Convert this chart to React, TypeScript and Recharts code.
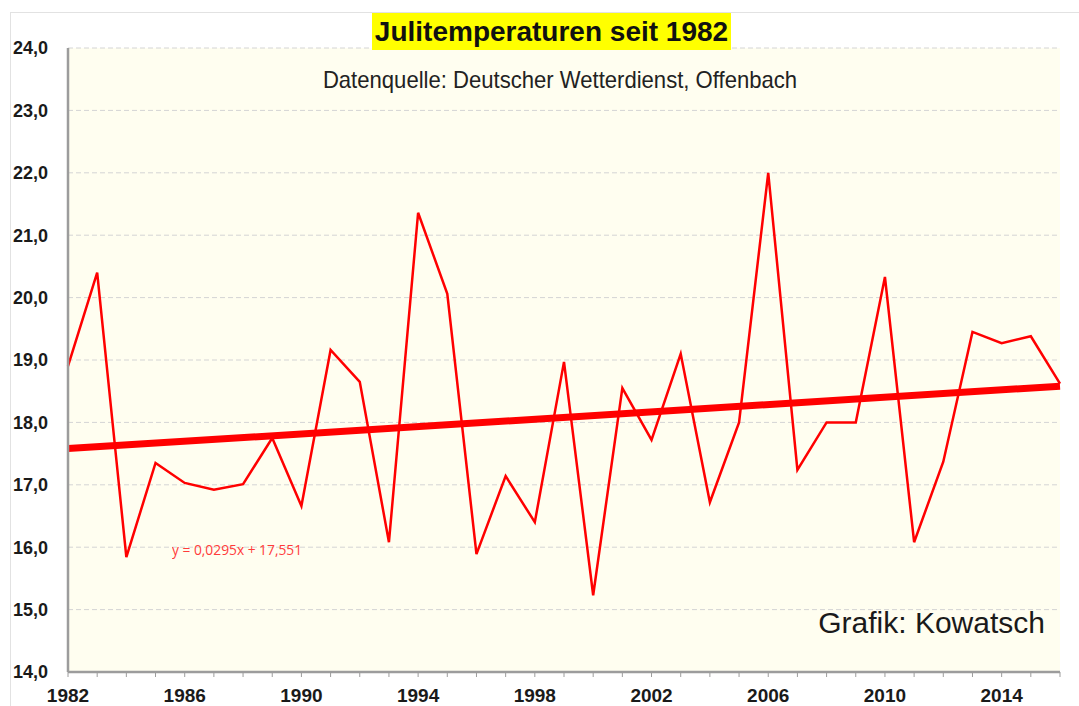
import { LineChart, Line, XAxis, YAxis, CartesianGrid, ReferenceLine } from 'recharts';

const YEARS = [
  1982, 1983, 1984, 1985, 1986, 1987, 1988, 1989, 1990, 1991, 1992, 1993,
  1994, 1995, 1996, 1997, 1998, 1999, 2000, 2001, 2002, 2003, 2004, 2005,
  2006, 2007, 2008, 2009, 2010, 2011, 2012, 2013, 2014, 2015, 2016,
];

const TEMPS = [
  18.9, 20.4, 15.84, 17.35, 17.03, 16.92, 17.01, 17.75, 16.66, 19.16, 18.65, 16.08,
  21.36, 20.06, 15.89, 17.14, 16.4, 18.97, 15.23, 18.55, 17.72, 19.1, 16.72, 18.0,
  22.0, 17.24, 18.0, 18.0, 20.33, 16.08, 17.37, 19.45, 19.27, 19.38, 18.62,
];

// trend line end points as drawn in the picture
const TREND_START = { x: 1982, y: 17.58 };
const TREND_END = { x: 2016, y: 18.58 };

const Y_TICKS = [14, 15, 16, 17, 18, 19, 20, 21, 22, 23, 24];
const X_LABEL_YEARS = [1982, 1986, 1990, 1994, 1998, 2002, 2006, 2010, 2014];

const data = YEARS.map((year, i) => ({ year, temp: TEMPS[i] }));

const BORDER = '#9c9c9c';
const FONT = '"Liberation Sans", Arial, sans-serif';

export default function App() {
  return (
    <div style={{ position: 'absolute', left: 0, top: 0, width: 1079, height: 706, background: '#fff', fontFamily: FONT }}>
      <div style={{ position: 'absolute', left: 10, top: 12, width: 1069, height: 694, borderTop: '1px solid #e2e2e2', borderLeft: '1px solid #e2e2e2' }} />
      <LineChart width={1079} height={706} data={data} margin={{ top: 48, right: 19, bottom: 0, left: 0 }}>
        <CartesianGrid vertical={false} fill="#FFFEF0" stroke="#d4d4d4" strokeDasharray="5 3" />
        <XAxis
          dataKey="year"
          type="number"
          domain={[1982, 2016]}
          ticks={YEARS}
          interval={0}
          tickFormatter={(v: number) => (X_LABEL_YEARS.includes(v) ? String(v) : '')}
          tick={{ fill: '#1a1a1a', fontSize: 19, fontWeight: 700, fontFamily: FONT }}
          tickSize={5}
          tickMargin={12}
          tickLine={{ stroke: BORDER }}
          axisLine={{ stroke: BORDER, strokeWidth: 2.5 }}
          height={34}
        />
        <XAxis xAxisId="top" orientation="top" type="number" domain={[1982, 2016]} tick={false} tickLine={false} height={0} axisLine={{ stroke: BORDER, strokeWidth: 2.5 }} />
        <YAxis
          type="number"
          domain={[14, 24]}
          ticks={Y_TICKS}
          interval={0}
          tickFormatter={(v: number) => v.toFixed(1).replace('.', ',')}
          tick={{ fill: '#1a1a1a', fontSize: 18, fontWeight: 700, fontFamily: FONT }}
          tickSize={0}
          tickMargin={20}
          tickLine={false}
          axisLine={{ stroke: BORDER, strokeWidth: 2.5 }}
          width={68}
        />
        <YAxis yAxisId="right" orientation="right" tick={false} tickLine={false} width={0} axisLine={{ stroke: BORDER, strokeWidth: 2.5 }} />
        <ReferenceLine segment={[TREND_START, TREND_END]} stroke="#ff0000" strokeWidth={7} />
        <Line dataKey="temp" stroke="#ff0000" strokeWidth={2.5} dot={false} isAnimationActive={false} />
      </LineChart>
      <div style={{ position: 'absolute', left: 372, top: 13, width: 359, height: 37, background: '#ffff00', color: '#111', fontWeight: 700, fontSize: 28, lineHeight: '37px', textAlign: 'center', whiteSpace: 'nowrap' }}>
        Julitemperaturen seit 1982
      </div>
      <div style={{ position: 'absolute', left: 260, top: 64, width: 600, textAlign: 'center', fontSize: 24, lineHeight: '32px', color: '#222', transform: 'scaleX(0.92)', whiteSpace: 'nowrap' }}>
        Datenquelle: Deutscher Wetterdienst, Offenbach
      </div>
      <div style={{ position: 'absolute', left: 172, top: 540, fontSize: 14.5, color: '#ff3b3b', fontFamily: '"Open Sans", sans-serif', whiteSpace: 'nowrap', transform: 'scaleX(0.95)', transformOrigin: 'left' }}>
        y = 0,0295x + 17,551
      </div>
      <div style={{ position: 'absolute', right: 34, top: 606, fontSize: 30, color: '#1a1a1a', whiteSpace: 'nowrap' }}>
        Grafik: Kowatsch
      </div>
    </div>
  );
}
